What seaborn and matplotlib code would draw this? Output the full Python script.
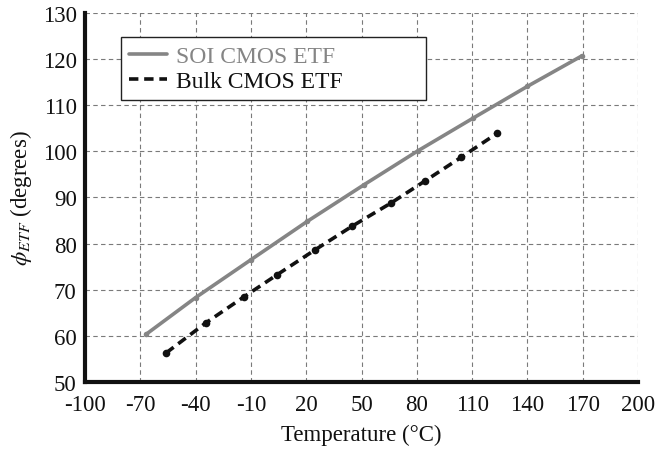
import matplotlib
matplotlib.use("Agg")
import matplotlib.pyplot as plt
import seaborn as sns
import pandas as pd

soi_temp = [-67, -40, -10, 20.5, 51.5, 80.5, 110.5, 140, 169.5]
soi_phi = [60.3, 68.3, 76.5, 84.8, 92.8, 100.1, 107.2, 114.1, 120.7]
bulk_temp = [-56, -34.5, -14, 4, 25, 45, 66, 84.5, 104, 123.5]
bulk_phi = [56.3, 62.8, 68.4, 73.2, 78.7, 83.8, 88.8, 93.6, 98.7, 103.9]
soi_label = "SOI CMOS ETF"
bulk_label = "Bulk CMOS ETF"
x_ticks = list(range(-100, 201, 30))
y_ticks = list(range(50, 131, 10))

sns.set_style("white")
plt.rcParams["font.family"] = ["Liberation Serif", "DejaVu Serif"]
plt.rcParams["mathtext.fontset"] = "stix"
plt.rcParams["axes.unicode_minus"] = False

fig = plt.figure(figsize=(6.56, 4.52), dpi=100)
ax = fig.add_axes([0.1296, 0.1527, 0.8430, 0.8163])

df_soi = pd.DataFrame({"t": soi_temp, "phi": soi_phi})
df_bulk = pd.DataFrame({"t": bulk_temp, "phi": bulk_phi})

sns.lineplot(data=df_soi, x="t", y="phi", ax=ax, color="#858585", lw=2.6,
             marker="o", markersize=4, markeredgewidth=0, label=soi_label)
sns.lineplot(data=df_bulk, x="t", y="phi", ax=ax, color="#111111", lw=2.6,
             marker="o", markersize=5.5, markeredgewidth=0, label=bulk_label)
ax.lines[1].set_dashes([2.6, 1.6])

ax.set_xlim(-100, 200)
ax.set_ylim(50, 130)
ax.set_xticks(x_ticks)
ax.set_yticks(y_ticks)
ax.tick_params(axis="both", labelsize=16.5, colors="#111111", length=3, width=0.8)
ax.tick_params(axis="x", direction="in", pad=9)
ax.tick_params(axis="y", direction="out", pad=3)

ax.grid(True, color="#7a7a7a", linestyle=(0, (4, 3)), linewidth=0.8)
ax.set_axisbelow(True)
for s in ["top", "right"]:
    ax.spines[s].set_visible(False)
for s in ["left", "bottom"]:
    ax.spines[s].set_linewidth(3)
    ax.spines[s].set_color("#111111")

ax.set_xlabel("Temperature (°C)", fontsize=16.5, color="#111111", labelpad=6)
ax.set_ylabel(r"$\phi_{ETF}$ (degrees)", fontsize=16.5, color="#111111", labelpad=6)

leg = ax.legend(loc="upper left", bbox_to_anchor=(0.065, 0.765, 0.5515, 0.17),
                mode="expand", borderaxespad=0, fancybox=False, framealpha=1,
                edgecolor="#222222", fontsize=17, handlelength=1.6,
                handletextpad=0.4, labelspacing=0.15, borderpad=0.35,
                labelcolor=["#858585", "#111111"])
leg.get_frame().set_linewidth(1.0)
for h in leg.get_lines():
    h.set_marker("")

fig.savefig("out.png", dpi=100)
